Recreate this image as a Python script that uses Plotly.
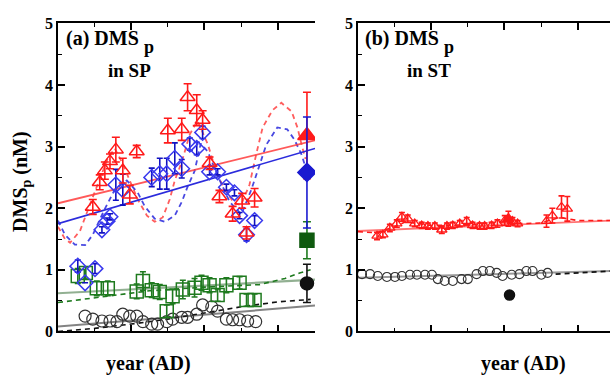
import plotly.graph_objects as go

# ---------------- Panel (a): DMSp in SP ----------------
# x in "year" units (tick spacing = 1 year, labels hidden in the original)
red_a_x = [0.95, 1.14, 1.28, 1.42, 1.58, 1.77, 1.96, 2.15, 3.00, 3.38, 3.54, 3.79, 3.95, 4.14, 4.41, 4.77, 5.03, 5.15, 5.37]
red_a_y = [2.02, 2.42, 2.61, 2.76, 2.95, 2.61, 2.22, 2.92, 3.26, 3.28, 3.80, 3.59, 3.43, 2.73, 2.19, 1.91, 2.12, 1.60, 2.17]
red_a_e = [0.12, 0.12, 0.14, 0.12, 0.20, 0.20, 0.15, 0.10, 0.20, 0.18, 0.22, 0.25, 0.15, 0.10, 0.10, 0.12, 0.12, 0.10, 0.15]

blue_a_x = [0.54, 0.74, 1.01, 1.20, 1.34, 1.42, 1.58, 1.77, 2.56, 2.78, 2.97, 3.19, 3.38, 3.60, 3.79, 3.95, 4.14, 4.36, 4.60, 4.82, 4.96, 5.15, 5.37]
blue_a_y = [1.06, 0.79, 1.02, 1.65, 1.79, 1.86, 2.38, 2.30, 2.50, 2.56, 2.56, 2.81, 2.64, 3.04, 2.97, 3.23, 2.59, 2.59, 2.34, 2.25, 1.88, 1.57, 1.80]
blue_a_e = [0.10, 0.00, 0.08, 0.05, 0.05, 0.05, 0.25, 0.25, 0.15, 0.25, 0.25, 0.25, 0.15, 0.10, 0.10, 0.10, 0.05, 0.05, 0.05, 0.05, 0.05, 0.10, 0.08]

green_a_x = [0.54, 0.76, 1.06, 1.36, 2.15, 2.32, 2.56, 2.78, 2.97, 3.13, 3.41, 3.73, 3.92, 4.14, 4.36, 4.60, 4.96, 5.15, 5.37]
green_a_y = [0.90, 0.95, 0.70, 0.70, 0.65, 0.82, 0.67, 0.64, 0.33, 0.57, 0.68, 0.71, 0.79, 0.75, 0.59, 0.75, 0.79, 0.51, 0.51]
green_a_e = [0.12, 0.10, 0.12, 0.12, 0.12, 0.15, 0.12, 0.12, 0.10, 0.12, 0.15, 0.15, 0.12, 0.12, 0.10, 0.12, 0.10, 0.10, 0.10]

circ_a_x = [0.74, 0.95, 1.20, 1.42, 1.61, 1.77, 1.96, 2.15, 2.32, 2.56, 2.72, 2.97, 3.13, 3.38, 3.54, 3.79, 3.95, 4.20, 4.36, 4.60, 4.77, 4.96, 5.18, 5.40]
circ_a_y = [0.25, 0.20, 0.17, 0.17, 0.16, 0.28, 0.25, 0.25, 0.16, 0.12, 0.12, 0.16, 0.20, 0.23, 0.23, 0.28, 0.43, 0.40, 0.33, 0.20, 0.19, 0.19, 0.17, 0.16]

# filled symbols at the right end of panel (a)
fill_a_x = 6.80
fill_red_a = (3.18, 0.70)
fill_blue_a = (2.58, 0.90)
fill_green_a = (1.48, 0.30)
fill_black_a = (0.78, 0.31)

# dashed (seasonal) fits in panel (a)
red_dash_x = [0.00, 0.19, 0.33, 0.60, 0.93, 1.20, 1.36, 1.55, 1.77, 1.96, 2.18, 2.43, 2.64, 2.86, 3.05, 3.19, 3.38, 3.60, 3.81, 4.09, 4.22, 4.33, 4.55, 4.82, 5.00, 5.23, 5.42, 5.59, 5.86, 6.10, 6.38, 6.54, 6.65, 6.76]
red_dash_y = [1.70, 1.50, 1.44, 1.63, 2.15, 2.55, 2.81, 2.97, 2.72, 2.45, 2.14, 1.88, 1.78, 1.85, 2.14, 2.45, 2.75, 3.20, 3.42, 3.04, 2.80, 2.58, 2.30, 2.08, 2.05, 2.38, 2.89, 3.31, 3.59, 3.71, 3.57, 3.31, 3.04, 2.80]
blue_dash_x = [0.00, 0.19, 0.46, 0.74, 0.95, 1.28, 1.55, 1.88, 2.18, 2.37, 2.64, 2.92, 3.19, 3.38, 3.54, 3.73, 3.90, 4.09, 4.36, 4.69, 5.01, 5.28, 5.50, 5.69, 5.99, 6.26, 6.45, 6.64, 6.80]
blue_dash_y = [1.80, 1.57, 1.41, 1.40, 1.57, 1.99, 2.30, 2.45, 2.25, 2.03, 1.83, 1.78, 1.88, 2.10, 2.35, 2.60, 3.05, 2.92, 2.53, 2.10, 1.90, 2.30, 2.69, 3.03, 3.31, 3.28, 3.12, 2.89, 2.60]
green_dash_x = [0.00, 1.00, 2.50, 4.00, 5.50, 6.20, 6.60, 6.90]
green_dash_y = [0.47, 0.55, 0.66, 0.72, 0.76, 0.86, 0.95, 1.00]
black_dash_x = [0.00, 1.00, 2.00, 3.00, 4.00, 5.00, 6.00, 6.60, 6.90]
black_dash_y = [0.00, 0.05, 0.12, 0.20, 0.30, 0.40, 0.48, 0.51, 0.52]

# linear trends in panel (a)
trend_x = [0.00, 7.02]
red_trend_a = [2.08, 3.10]
blue_trend_a = [1.75, 2.97]
green_trend_a = [0.62, 0.84]
black_trend_a = [0.08, 0.42]

# ---------------- Panel (b): DMSp in ST ----------------
red_b_x = [0.52, 0.68, 0.87, 1.06, 1.20, 1.36, 1.55, 1.74, 1.91, 2.10, 2.29, 2.43, 2.59, 2.78, 2.97, 3.13, 3.32, 3.46, 3.65, 3.81, 4.01, 4.22, 4.36, 5.15, 5.31, 5.56, 5.72]
red_b_y = [1.55, 1.57, 1.68, 1.75, 1.86, 1.83, 1.75, 1.72, 1.71, 1.71, 1.65, 1.71, 1.72, 1.75, 1.79, 1.72, 1.71, 1.71, 1.72, 1.75, 1.80, 1.79, 1.75, 1.79, 1.88, 2.02, 1.99]
red_b_e = [0.06, 0.05, 0.06, 0.06, 0.07, 0.06, 0.05, 0.05, 0.05, 0.05, 0.06, 0.05, 0.05, 0.05, 0.06, 0.05, 0.05, 0.05, 0.05, 0.06, 0.08, 0.06, 0.05, 0.10, 0.12, 0.18, 0.20]
fill_red_b = (4.11, 1.83, 0.12)

circ_b_x = [0.11, 0.33, 0.54, 0.79, 1.01, 1.20, 1.42, 1.61, 1.83, 2.02, 2.18, 2.37, 2.59, 2.83, 3.00, 3.24, 3.41, 3.60, 3.79, 3.95, 4.20, 4.41, 4.60, 4.77, 5.01, 5.18]
circ_b_y = [0.93, 0.93, 0.90, 0.885, 0.885, 0.90, 0.92, 0.92, 0.92, 0.92, 0.85, 0.82, 0.82, 0.85, 0.85, 0.93, 0.98, 0.98, 0.95, 0.90, 0.92, 0.93, 0.98, 0.98, 0.92, 0.95]
fill_black_b = (4.14, 0.59)

red_dash_b_x = [0.00, 0.50, 1.00, 1.30, 2.00, 3.00, 4.00, 4.50, 5.00, 5.50, 6.00, 6.90]
red_dash_b_y = [1.62, 1.60, 1.70, 1.78, 1.72, 1.73, 1.78, 1.75, 1.76, 1.85, 1.80, 1.80]
trend_b_x = [0.00, 6.90]
red_trend_b = [1.63, 1.80]
black_trend_b = [0.87, 0.98]
black_dash_b_x = [5.40, 6.90]
black_dash_b_y = [0.93, 0.98]

RED = "#ff1a1a"
BLUE = "#2b2bdc"
GREEN = "#1e7a1e"
BLACK = "#111111"
SERIF = "Liberation Serif"

fig = go.Figure()


def line(x, y, color, xa, ya, dash=None, width=1.8):
    fig.add_trace(go.Scatter(x=x, y=y, mode="lines", xaxis=xa, yaxis=ya,
                             line=dict(color=color, width=width, dash=dash),
                             showlegend=False, hoverinfo="skip"))


def pts(x, y, e, symbol, color, size, xa, ya, ecolor=None, cap=3, lw=1.5):
    fig.add_trace(go.Scatter(
        x=x, y=y, mode="markers", xaxis=xa, yaxis=ya,
        marker=dict(symbol=symbol, size=size, color=color,
                    line=dict(color=color, width=lw)),
        error_y=None if e is None else dict(type="data", array=e, visible=True,
                                             color=ecolor or color, thickness=1.6, width=cap),
        showlegend=False, hoverinfo="skip"))


DASH = "5px,4px"
# panel (a) lines
line(trend_x, black_trend_a, "rgba(90,90,90,0.75)", "x", "y", width=2)
line(black_dash_x, black_dash_y, BLACK, "x", "y", dash=DASH, width=1.6)
line(trend_x, green_trend_a, "rgba(110,150,110,0.75)", "x", "y", width=2.2)
line(green_dash_x, green_dash_y, GREEN, "x", "y", dash=DASH, width=1.6)
line(red_dash_x, red_dash_y, "rgba(255,40,40,0.75)", "x", "y", dash=DASH, width=1.8)
line(blue_dash_x, blue_dash_y, "rgba(40,40,220,0.85)", "x", "y", dash=DASH, width=1.8)
line(trend_x, red_trend_a, "rgba(255,60,60,0.85)", "x", "y", width=1.8)
line(trend_x, blue_trend_a, BLUE, "x", "y", width=1.6)

# panel (a) points
pts(circ_a_x, circ_a_y, None, "circle-open", "#333333", 12, "x", "y", lw=1.2)
pts(green_a_x, green_a_y, green_a_e, "square-open", GREEN, 13, "x", "y")
pts(blue_a_x, blue_a_y, blue_a_e, "diamond-open", "#3a3aee", 12, "x", "y", ecolor="#1010c0")
pts(red_a_x, red_a_y, red_a_e, "triangle-up-open", RED, 13, "x", "y", cap=4)
pts([fill_a_x], [fill_black_a[0]], [fill_black_a[1]], "circle", BLACK, 13, "x", "y", cap=4)
pts([fill_a_x], [fill_green_a[0]], [fill_green_a[1]], "square", "#0f5a0f", 14, "x", "y", ecolor=GREEN, cap=4)
pts([fill_a_x], [fill_red_a[0]], [fill_red_a[1]], "triangle-up", RED, 16, "x", "y", cap=4)
pts([fill_a_x], [fill_blue_a[0]], [fill_blue_a[1]], "diamond", "#1a1ad0", 14, "x", "y", cap=4)

# panel (b) lines
line(trend_b_x, black_trend_b, "rgba(110,110,110,0.7)", "x2", "y2", width=2)
line(black_dash_b_x, black_dash_b_y, BLACK, "x2", "y2", dash=DASH, width=1.6)
line(trend_b_x, red_trend_b, "rgba(255,80,80,0.8)", "x2", "y2", width=1.8)
line(red_dash_b_x, red_dash_b_y, RED, "x2", "y2", dash=DASH, width=1.6)

# panel (b) points
pts(circ_b_x, circ_b_y, None, "circle-open", "#333333", 9, "x2", "y2", lw=1.1)
pts(red_b_x, red_b_y, red_b_e, "triangle-up-open", RED, 9, "x2", "y2", cap=3, lw=1.3)
pts([fill_red_b[0]], [fill_red_b[1]], [fill_red_b[2]], "triangle-up", RED, 10, "x2", "y2", cap=3)
pts([fill_black_b[0]], [fill_black_b[1]], None, "circle", BLACK, 10, "x2", "y2")

H = 383.0
W = 610.0
ydom = [(H - 338.5) / H, (H - 16) / H]

xcommon = dict(showline=True, linecolor="black", linewidth=1.6, mirror="ticks",
               ticks="inside", tick0=0, dtick=2, ticklen=7, tickwidth=1.5, tickcolor="black",
               minor=dict(ticks="inside", dtick=1, tick0=0, ticklen=4, tickwidth=1.3, tickcolor="black"),
               showticklabels=False, showgrid=False, zeroline=False)
ycommon = dict(showline=True, linecolor="black", linewidth=1.6, mirror=False,
               ticks="inside", tick0=0, dtick=1, ticklen=7, tickwidth=1.5, tickcolor="black",
               minor=dict(ticks="inside", dtick=0.5, tick0=0, ticklen=4, tickwidth=1.3, tickcolor="black"),
               range=[0, 5], showgrid=False, zeroline=False, domain=ydom,
               tickfont=dict(family=SERIF, size=16, color="black", weight="bold"))

fig.update_layout(
    width=610, height=383,
    margin=dict(l=0, r=0, t=0, b=0),
    paper_bgcolor="white", plot_bgcolor="white",
    xaxis=dict(domain=[58 / W, 315 / W], range=[0, 7.02], anchor="y", **xcommon),
    yaxis=dict(anchor="x", **ycommon),
    xaxis2=dict(domain=[358 / W, 1.0], range=[0, 252 / 36.6], anchor="y2", **xcommon),
    yaxis2=dict(anchor="x2", **ycommon),
)


def txt(x, y, s, size=20, xanchor="left", angle=0):
    fig.add_annotation(x=x / W, y=1 - y / H, xref="paper", yref="paper", text=s,
                       showarrow=False, xanchor=xanchor, yanchor="middle", textangle=angle,
                       font=dict(family=SERIF, size=size, color="black", weight="bold"))


txt(64, 32, "(a) DMS")
txt(142, 41, "p", size=18)
txt(106, 65, "in SP", size=19)
txt(363, 32, "(b) DMS")
txt(442, 41, "p", size=18)
txt(405, 65, "in ST", size=19)
txt(148, 372, "year (AD)", xanchor="center")
txt(523, 372, "year (AD)", xanchor="center")
txt(22, 182, "DMS<sub>p</sub> (nM)", xanchor="center", angle=-90)

fig.write_html("out.html")
